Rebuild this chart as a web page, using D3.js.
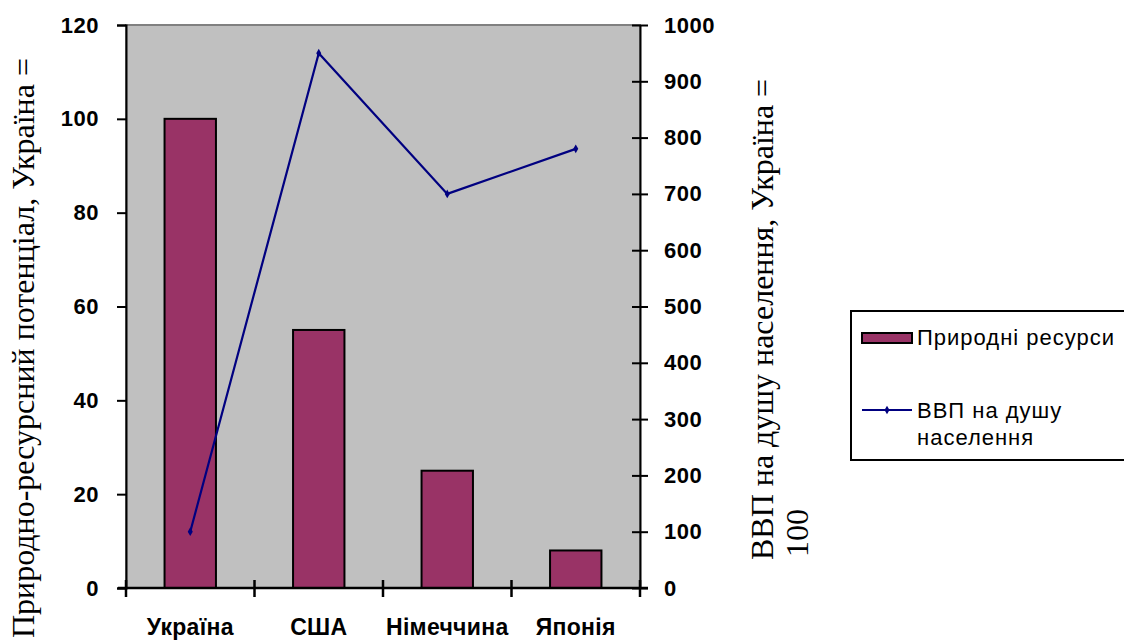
<!DOCTYPE html>
<html>
<head>
<meta charset="utf-8">
<script src="https://cdn.jsdelivr.net/npm/d3@7"></script>
<style>
    body { margin: 0; background: #ffffff; overflow: hidden; }
    svg { display: block; }
</style>
</head>
<body>
<svg id="SVG_CONTAINER" width="1124" height="640"></svg>
<script>
// data
const countries = ["Україна", "США", "Німеччина", "Японія"];
const resources = [100, 55, 25, 8];      // left axis
const gdp = [100, 950, 700, 780];        // right axis
const leftTicks = [0, 20, 40, 60, 80, 100, 120];
const rightTicks = [0, 100, 200, 300, 400, 500, 600, 700, 800, 900, 1000];

const PLOT = { LEFT: 126, RIGHT: 640, TOP: 25, BOTTOM: 588 };

let svg = d3.select("#SVG_CONTAINER");

//** SCALES *****************************************
let xScale = d3.scaleBand()
    .domain(countries)
    .range([PLOT.LEFT, PLOT.RIGHT])
    .paddingInner(0.6)
    .paddingOuter(0.3);

let yLeft = d3.scaleLinear().domain([0, 120]).range([PLOT.BOTTOM, PLOT.TOP]);
let yRight = d3.scaleLinear().domain([0, 1000]).range([PLOT.BOTTOM, PLOT.TOP]);

//** PLOT AREA *****************************************
svg.append("rect")
    .attr("x", PLOT.LEFT)
    .attr("y", PLOT.TOP)
    .attr("width", PLOT.RIGHT - PLOT.LEFT)
    .attr("height", PLOT.BOTTOM - PLOT.TOP)
    .attr("fill", "#c0c0c0")
    .attr("stroke", "#808080")
    .attr("stroke-width", 2);

//** BARS *****************************************
svg.append("g").attr("class", "bars")
    .selectAll("rect")
    .data(countries)
    .join("rect")
    .attr("x", d => xScale(d))
    .attr("y", (d, i) => yLeft(resources[i]))
    .attr("width", xScale.bandwidth())
    .attr("height", (d, i) => yLeft(0) - yLeft(resources[i]))
    .attr("fill", "#993366")
    .attr("stroke", "#000")
    .attr("stroke-width", 2);

//** AXES *****************************************
const tickFont = "bold 22px 'Liberation Sans', Arial, sans-serif";

let leftAxis = svg.append("g")
    .attr("transform", "translate(" + PLOT.LEFT + ",0)")
    .call(d3.axisLeft(yLeft).tickValues(leftTicks).tickFormat(d3.format("d")).tickSize(9).tickPadding(18));
leftAxis.select(".domain").attr("stroke", "#000").attr("stroke-width", 2);
leftAxis.selectAll(".tick line").attr("stroke", "#000").attr("stroke-width", 2);
leftAxis.selectAll("text").style("font", tickFont).style("letter-spacing", "0.5px").attr("fill", "#000");

let rightAxis = svg.append("g")
    .attr("transform", "translate(" + PLOT.RIGHT + ",0)")
    .call(d3.axisRight(yRight).tickValues(rightTicks).tickFormat(d3.format("d")).tickSizeInner(8).tickSizeOuter(0).tickPadding(16));
rightAxis.select(".domain").attr("stroke", "#000").attr("stroke-width", 2);
rightAxis.selectAll(".tick line").attr("x1", -8).attr("stroke", "#000").attr("stroke-width", 2);
rightAxis.selectAll("text").style("font", tickFont).style("letter-spacing", "0.5px").attr("fill", "#000");

// category axis: ticks on the category boundaries
let bottom = svg.append("g").attr("transform", "translate(0," + PLOT.BOTTOM + ")");
bottom.append("line")
    .attr("x1", PLOT.LEFT - 8).attr("x2", PLOT.RIGHT + 8)
    .attr("stroke", "#000").attr("stroke-width", 2.5);
let step = (PLOT.RIGHT - PLOT.LEFT) / countries.length;
bottom.selectAll("line.tick")
    .data(d3.range(countries.length + 1))
    .join("line")
    .attr("class", "tick")
    .attr("x1", i => PLOT.LEFT + i * step)
    .attr("x2", i => PLOT.LEFT + i * step)
    .attr("y1", -8).attr("y2", 9)
    .attr("stroke", "#000").attr("stroke-width", 2.5);
bottom.selectAll("text")
    .data(countries)
    .join("text")
    .attr("x", d => xScale(d) + xScale.bandwidth() / 2)
    .attr("y", 47)
    .attr("text-anchor", "middle")
    .style("font", "bold 23px 'Liberation Sans', Arial, sans-serif")
    .style("letter-spacing", "0.3px")
    .text(d => d);

//** LINE *****************************************
let lineData = countries.map((c, i) => [xScale(c) + xScale.bandwidth() / 2, yRight(gdp[i])]);
svg.append("path")
    .datum(lineData)
    .attr("d", d3.line())
    .attr("fill", "none")
    .attr("stroke", "#000080")
    .attr("stroke-width", 2.2);
svg.append("g").selectAll("path")
    .data(lineData)
    .join("path")
    .attr("transform", d => "translate(" + d[0] + "," + d[1] + ")")
    .attr("d", d3.symbol(d3.symbolDiamond, 22))
    .attr("fill", "#000080");

//** AXIS TITLES *****************************************
const titleFont = "32px 'Liberation Serif', 'Times New Roman', serif";
svg.append("text")
    .attr("transform", "translate(34,58) rotate(-90)")
    .attr("text-anchor", "end")
    .style("font", titleFont)
    .text("Природно-ресурсний потенціал, Україна =");

svg.append("text")
    .attr("transform", "translate(773,560) rotate(-90)")
    .attr("text-anchor", "start")
    .style("font", titleFont)
    .text("ВВП на душу населення, Україна =");
svg.append("text")
    .attr("transform", "translate(808,557) rotate(-90)")
    .attr("text-anchor", "start")
    .style("font", titleFont)
    .text("100");

//** LEGEND *****************************************
let legend = svg.append("g").attr("class", "legend");
legend.append("rect")
    .attr("x", 851).attr("y", 311)
    .attr("width", 290).attr("height", 149)
    .attr("fill", "#fff")
    .attr("stroke", "#000").attr("stroke-width", 2);

const legendFont = "22px 'Liberation Sans', Arial, sans-serif";
legend.append("rect")
    .attr("x", 862).attr("y", 333)
    .attr("width", 50).attr("height", 10)
    .attr("fill", "#993366")
    .attr("stroke", "#000").attr("stroke-width", 2);
legend.append("text")
    .attr("x", 917).attr("y", 345)
    .style("font", legendFont)
    .style("letter-spacing", "1px")
    .text("Природні ресурси");

legend.append("line")
    .attr("x1", 862).attr("x2", 912)
    .attr("y1", 410).attr("y2", 410)
    .attr("stroke", "#000080").attr("stroke-width", 2);
legend.append("path")
    .attr("transform", "translate(887,410)")
    .attr("d", d3.symbol(d3.symbolDiamond, 22))
    .attr("fill", "#000080");
legend.append("text")
    .attr("x", 917).attr("y", 418)
    .style("font", legendFont)
    .style("letter-spacing", "1px")
    .text("ВВП на душу");
legend.append("text")
    .attr("x", 917).attr("y", 445)
    .style("font", legendFont)
    .style("letter-spacing", "1px")
    .text("населення");
</script>
</body>
</html>
